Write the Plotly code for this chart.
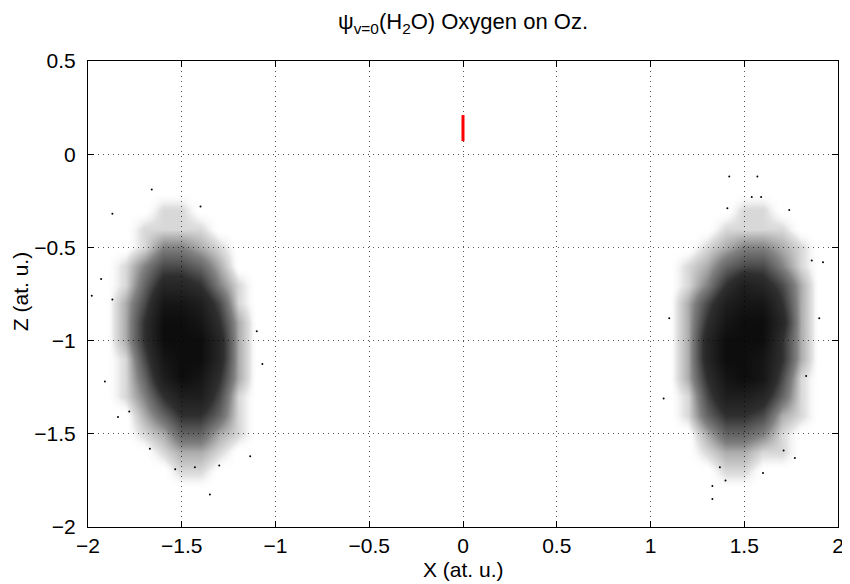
import plotly.graph_objects as go

# Density of the sampled points (0 = empty, 10 = saturated), read off the picture
# on a 0.1 x 0.1 grid, cell centres below
LEFT_X = [-1.9, -1.8, -1.7, -1.6, -1.5, -1.4, -1.3, -1.2, -1.1]
RIGHT_X = [1.1, 1.2, 1.3, 1.4, 1.5, 1.6, 1.7, 1.8, 1.9]
CLOUD_Z = [-0.2, -0.3, -0.4, -0.5, -0.6, -0.7, -0.8, -0.9, -1.0,
           -1.1, -1.2, -1.3, -1.4, -1.5, -1.6, -1.7, -1.8]

LEFT_DENSITY = [
    [0, 0, 0, 0, 0, 0, 0, 0, 0],
    [0, 0, 0, 1, 1, 0, 0, 0, 0],
    [0, 0, 1, 1, 1, 1, 0, 0, 0],
    [0, 0, 1, 3, 3, 2, 1, 0, 0],
    [0, 1, 3, 5, 5, 4, 2, 0, 0],
    [0, 1, 4, 7, 7, 6, 3, 1, 0],
    [0, 2, 5, 9, 9, 8, 5, 1, 0],
    [0, 2, 6, 10, 10, 9, 6, 2, 0],
    [0, 2, 6, 10, 10, 10, 7, 2, 0],
    [0, 1, 5, 9, 10, 10, 7, 2, 0],
    [0, 1, 4, 8, 10, 9, 6, 2, 0],
    [0, 1, 3, 6, 8, 8, 5, 1, 0],
    [0, 0, 2, 4, 6, 6, 4, 1, 0],
    [0, 0, 1, 2, 4, 4, 2, 1, 0],
    [0, 0, 0, 1, 2, 2, 1, 0, 0],
    [0, 0, 0, 0, 1, 1, 0, 0, 0],
    [0, 0, 0, 0, 0, 0, 0, 0, 0],
]

RIGHT_DENSITY = [
    [0, 0, 0, 0, 0, 0, 0, 0, 0],
    [0, 0, 0, 0, 1, 1, 0, 0, 0],
    [0, 0, 0, 1, 1, 1, 1, 0, 0],
    [0, 0, 1, 2, 3, 3, 2, 1, 0],
    [0, 1, 2, 4, 5, 5, 3, 1, 0],
    [0, 1, 3, 6, 8, 7, 5, 2, 0],
    [0, 2, 5, 8, 9, 9, 6, 2, 0],
    [0, 2, 6, 9, 10, 10, 7, 2, 0],
    [0, 2, 7, 10, 10, 10, 6, 2, 0],
    [0, 2, 7, 10, 10, 9, 6, 2, 0],
    [0, 2, 6, 9, 10, 9, 5, 1, 0],
    [0, 1, 5, 8, 8, 7, 4, 1, 0],
    [0, 1, 4, 6, 6, 5, 2, 1, 0],
    [0, 0, 2, 4, 4, 3, 1, 0, 0],
    [0, 0, 1, 2, 2, 1, 1, 0, 0],
    [0, 0, 0, 1, 1, 0, 0, 0, 0],
    [0, 0, 0, 0, 0, 0, 0, 0, 0],
]

# stray points outside the dense clouds
STRAY_X = [-1.66, -1.87, -1.40, -1.93, -1.98, -1.87, -1.91, -1.84, -1.78,
           -1.10, -1.07, -1.135, -1.35, -1.535, -1.43, -1.30, -1.67,
           1.54, 1.59, 1.74, 1.41, 1.86, 1.92, 1.10, 1.90, 1.83, 1.07,
           1.77, 1.60, 1.37, 1.33, 1.33, 1.40, 1.71, 1.42, 1.57]
STRAY_Z = [-0.19, -0.32, -0.28, -0.67, -0.76, -0.78, -1.22, -1.41, -1.38,
           -0.95, -1.125, -1.62, -1.825, -1.69, -1.68, -1.67, -1.58,
           -0.23, -0.23, -0.30, -0.29, -0.57, -0.58, -0.88, -0.88, -1.19, -1.31,
           -1.63, -1.71, -1.68, -1.78, -1.85, -1.75, -1.59, -0.12, -0.12]

# oxygen position (red segment)
OXYGEN_X = [0, 0]
OXYGEN_Z = [0.07, 0.21]

FONT = "Liberation Sans, Arial, Helvetica, sans-serif"

cloud_scale = [
    [0.0, "rgba(255,255,255,0)"],
    [0.08, "rgba(0,0,0,0.12)"],
    [0.3, "rgba(0,0,0,0.50)"],
    [0.6, "rgba(0,0,0,0.82)"],
    [1.0, "rgba(0,0,0,0.95)"],
]

fig = go.Figure()

for xs, dens in [(LEFT_X, LEFT_DENSITY), (RIGHT_X, RIGHT_DENSITY)]:
    fig.add_trace(go.Heatmap(
        x=xs, y=CLOUD_Z, z=dens,
        zmin=0, zmax=10,
        colorscale=cloud_scale,
        zsmooth="best",
        showscale=False,
        hoverinfo="skip",
    ))

fig.add_trace(go.Scatter(
    x=STRAY_X, y=STRAY_Z, mode="markers",
    marker=dict(color="black", size=2),
    showlegend=False, hoverinfo="skip",
))

fig.add_trace(go.Scatter(
    x=OXYGEN_X, y=OXYGEN_Z, mode="lines",
    line=dict(color="red", width=3),
    showlegend=False,
))

axis_common = dict(
    showline=True, linecolor="black", linewidth=1, mirror="ticks",
    ticks="inside", ticklen=6, tickcolor="black",
    showgrid=True, gridcolor="#555555", griddash="1px,4px", gridwidth=1,
    zeroline=False, automargin=False,
    tickfont=dict(family=FONT, size=21, color="black"),
    dtick=0.5,
)

fig.update_xaxes(range=[-2, 2], tick0=-2, ticklabelstandoff=0, **axis_common)
fig.update_yaxes(range=[-2, 0.5], tick0=-2, ticklabelstandoff=7, **axis_common)

fig.add_annotation(text="X (at. u.)", xref="paper", yref="paper", x=0.5, y=-0.062,
                   xanchor="center", yanchor="top", showarrow=False,
                   font=dict(family=FONT, size=21, color="black"))
fig.add_annotation(text="Z (at. u.)", xref="paper", yref="paper", x=-0.09, y=0.505,
                   xanchor="center", yanchor="middle", showarrow=False, textangle=-90,
                   font=dict(family=FONT, size=21, color="black"))

# the page adds an 8px body margin, so the figure is sized to fit inside it
fig.update_layout(
    width=842, height=576,
    margin=dict(l=80, r=12, t=53, b=57),
    plot_bgcolor="white", paper_bgcolor="white",
    showlegend=False,
    title=dict(text="ψ<sub>v=0</sub>(H<sub>2</sub>O) Oxygen on Oz.",
               x=0.5, xref="paper", xanchor="center", y=0.99, yanchor="top",
               font=dict(family=FONT, size=22, color="black")),
)

fig.write_html("out.html")
